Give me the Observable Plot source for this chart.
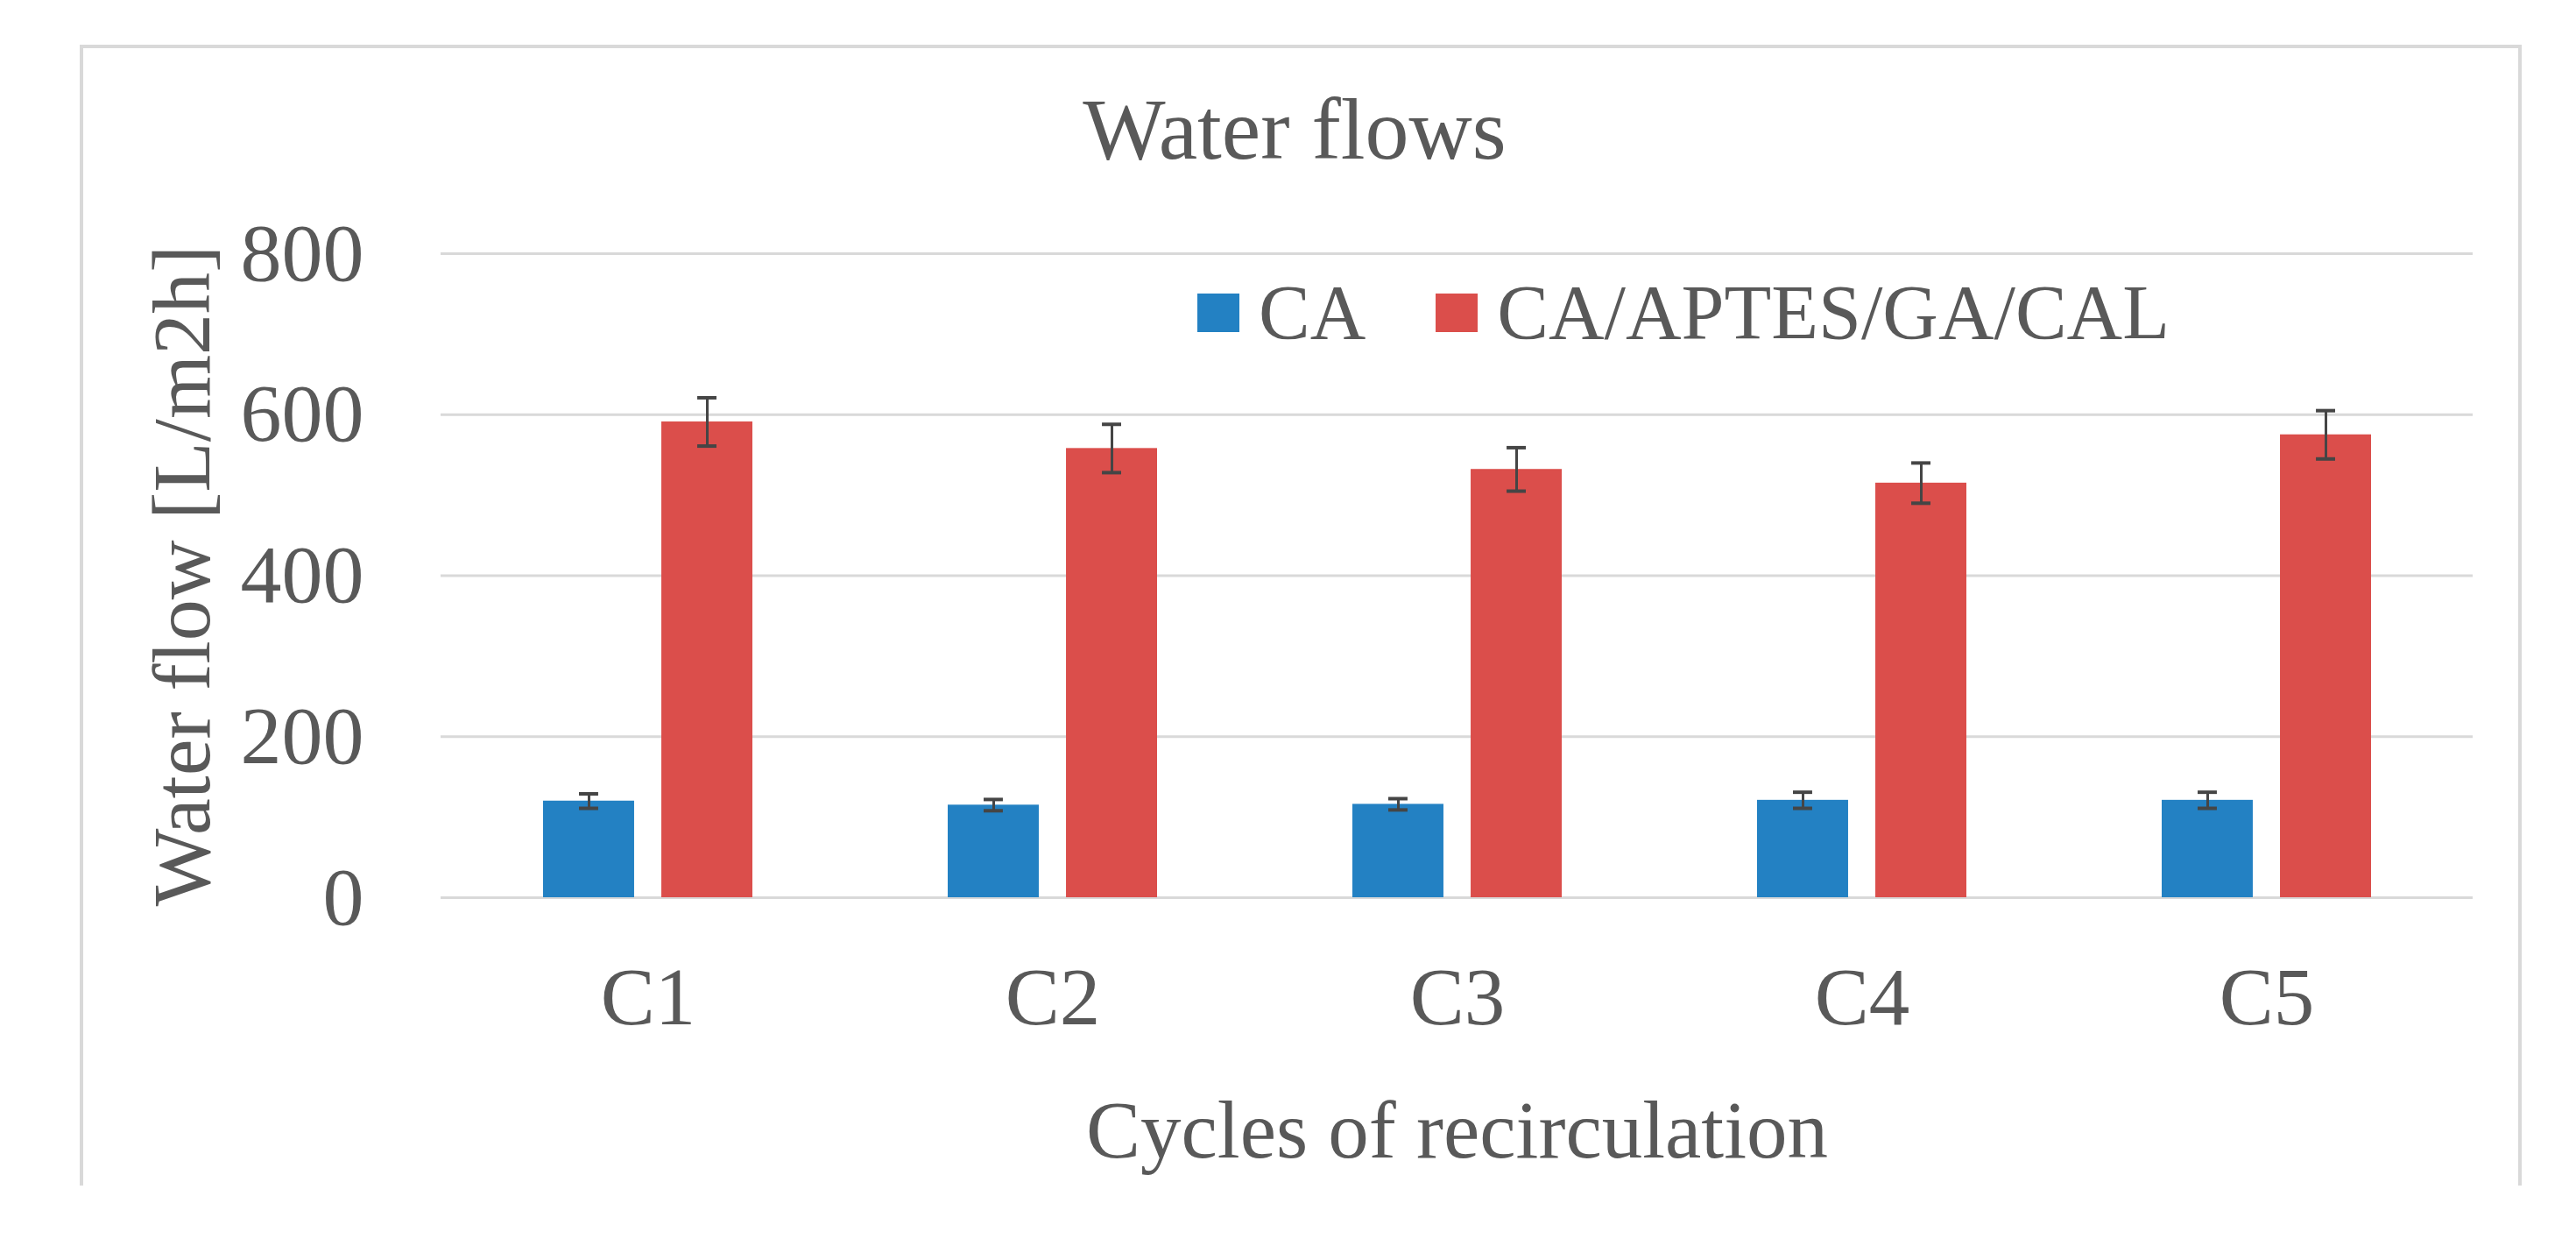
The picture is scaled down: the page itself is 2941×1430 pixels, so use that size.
<!DOCTYPE html>
<html>
<head>
<meta charset="utf-8">
<script src="https://cdn.jsdelivr.net/npm/d3@7"></script>
<script src="https://cdn.jsdelivr.net/npm/@observablehq/plot@0.6"></script>
<style>
  html, body { margin: 0; padding: 0; background: #ffffff; }
  #wrap { position: relative; width: 2941px; height: 1430px; overflow: hidden;
          font-family: "Liberation Serif", serif; color: #595959; }
  #frame { position: absolute; left: 91px; top: 51px; width: 2788px; height: 1302px;
           border: 4px solid #d9d9d9; border-bottom: none; box-sizing: border-box; }
  #chart { position: absolute; left: 0; top: 0; }
  #title { position: absolute; left: 1478px; top: 98px; transform: translateX(-50%);
           font-size: 100px; line-height: 100px; white-space: nowrap; }
  #legend { position: absolute; left: 1367px; top: 313px; display: flex; align-items: center;
            font-size: 88px; line-height: 88px; white-space: nowrap; }
  #legend .item { display: flex; align-items: center; }
  #legend .sw { width: 48px; height: 44px; margin-right: 22px; }
  #legend .item + .item { margin-left: 80px; }
</style>
</head>
<body>
<div id="wrap">
  <div id="frame"></div>
  <div id="chart"></div>
  <div id="title"></div>
  <div id="legend"></div>
</div>
<script>
// ---- data ----
const chartTitle = "Water flows";
const xTitle = "Cycles of recirculation";
const yTitle = "Water flow [L/m2h]";
const cycles = ["C1", "C2", "C3", "C4", "C5"];
const seriesNames = ["CA", "CA/APTES/GA/CAL"];
const caValues = [120, 115, 116, 121, 121];
const caErrors = [9, 7, 7, 10, 10];
const calValues = [591, 558, 532, 515, 575];
const calErrors = [30, 30, 27, 25, 30];
const yTicks = [0, 200, 400, 600, 800];
const seriesColors = ["#2381c3", "#db4e4b"];

// ---- layout ----
const W = 2941, H = 1430;
const mL = 503, mR = 118, mT = 289, mB = 406;
const padInner = 0.483, padOuter = 0.25;
const barGap = 31;
const step = (W - mL - mR) / (cycles.length - padInner + 2 * padOuter);
const bw = step * (1 - padInner);
const barW = (bw - barGap) / 2;
const off = bw / 2 - barW / 2;
const capW = 22;

const caRows = cycles.map((c, i) => ({cycle: c, series: seriesNames[0], value: caValues[i], err: caErrors[i]}));
const calRows = cycles.map((c, i) => ({cycle: c, series: seriesNames[1], value: calValues[i], err: calErrors[i]}));

const errColor = "#454545";
const capInsetNear = barW / 2 - capW / 2;
const capInsetFar = bw - barW / 2 - capW / 2;

const chart = Plot.plot({
  width: W, height: H,
  marginLeft: mL, marginRight: mR, marginTop: mT, marginBottom: mB,
  style: {fontFamily: "Liberation Serif, serif", color: "#595959", background: "transparent"},
  x: {domain: cycles, paddingInner: padInner, paddingOuter: padOuter, align: 0.5},
  y: {domain: [0, 800]},
  color: {domain: seriesNames, range: seriesColors},
  marks: [
    Plot.ruleY(yTicks, {stroke: "#d9d9d9", strokeWidth: 3}),
    Plot.axisY({ticks: yTicks, tickSize: 0, tickPadding: 88, fontSize: 94,
                label: yTitle, labelAnchor: "center", labelOffset: 331, labelArrow: "none"}),
    Plot.axisX({tickSize: 0, tickPadding: 78, fontSize: 93,
                label: xTitle, labelAnchor: "center", labelOffset: 296, labelArrow: "none"}),
    Plot.barY(caRows, {x: "cycle", y: "value", fill: "series", insetRight: bw - barW}),
    Plot.barY(calRows, {x: "cycle", y: "value", fill: "series", insetLeft: bw - barW}),
    Plot.ruleX(caRows, {x: "cycle", y1: d => d.value - d.err, y2: d => d.value + d.err, dx: -off, stroke: errColor, strokeWidth: 3}),
    Plot.ruleX(calRows, {x: "cycle", y1: d => d.value - d.err, y2: d => d.value + d.err, dx: off, stroke: errColor, strokeWidth: 3}),
    Plot.tickY(caRows, {x: "cycle", y: d => d.value + d.err, insetLeft: capInsetNear, insetRight: capInsetFar, stroke: errColor, strokeWidth: 4}),
    Plot.tickY(caRows, {x: "cycle", y: d => d.value - d.err, insetLeft: capInsetNear, insetRight: capInsetFar, stroke: errColor, strokeWidth: 4}),
    Plot.tickY(calRows, {x: "cycle", y: d => d.value + d.err, insetLeft: capInsetFar, insetRight: capInsetNear, stroke: errColor, strokeWidth: 4}),
    Plot.tickY(calRows, {x: "cycle", y: d => d.value - d.err, insetLeft: capInsetFar, insetRight: capInsetNear, stroke: errColor, strokeWidth: 4})
  ]
});
document.getElementById("chart").appendChild(chart);

document.getElementById("title").textContent = chartTitle;

const legend = document.getElementById("legend");
seriesNames.forEach((name, i) => {
  const item = document.createElement("div");
  item.className = "item";
  const sw = document.createElement("div");
  sw.className = "sw";
  sw.style.background = seriesColors[i];
  const label = document.createElement("span");
  label.textContent = name;
  item.appendChild(sw);
  item.appendChild(label);
  legend.appendChild(item);
});
</script>
</body>
</html>
